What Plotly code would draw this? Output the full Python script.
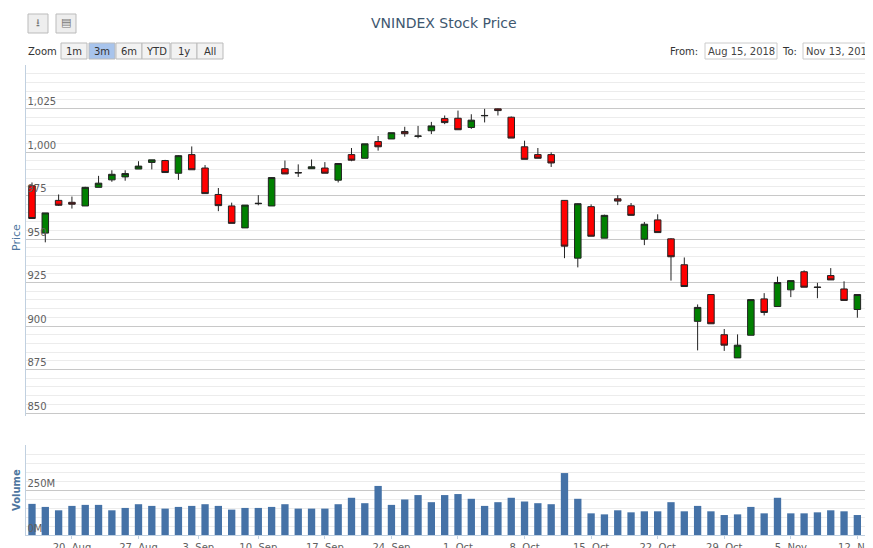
import plotly.graph_objects as go

opens = [980.6,953.4,972.2,971.1,969.0,979.7,984.0,985.7,990.2,994.0,995.1,987.8,998.5,990.8,975.6,969.0,956.4,970.3,969.0,990.4,988.2,990.4,990.8,983.8,998.5,996.4,1006.0,1007.5,1011.8,1009.0,1012.2,1019.2,
         1019.4,1014.1,1020.8,1024.8,1020.0,1003.0,998.5,998.5,972.2,939.0,968.6,950.5,973.1,969.1,949.9,961.0,950.1,935.2,902.7,918.1,895.0,881.7,894.7,915.6,911.2,920.8,931.2,922.4,929.0,921.3,909.5,904.6]
closes = [961.8,965.0,969.4,970.0,979.7,982.1,987.2,987.6,991.9,995.5,988.2,997.9,989.8,976.1,969.2,959.0,969.5,970.5,985.3,987.4,988.0,991.5,987.8,993.4,995.3,1004.7,1003.0,1011.1,1010.5,1009.2,1015.0,1016.9,
          1012.8,1018.3,1021.0,1023.8,1008.0,995.8,996.4,993.7,945.9,970.3,951.6,963.6,971.8,963.6,958.5,953.7,939.8,922.7,910.7,901.3,889.0,889.0,915.2,907.8,925.0,926.1,922.3,922.2,926.5,914.7,918.1,905.5]
highs = [982.5,965.0,975.6,974.4,980.0,986.3,989.5,989.5,994.7,995.5,995.5,998.2,1003.2,992.5,979.3,970.9,969.5,975.2,985.5,995.1,992.9,995.7,994.2,993.6,1002.3,1004.7,1009.2,1011.1,1014.5,1015.0,1017.3,1021.0,
         1023.8,1021.7,1024.8,1025.0,1020.4,1006.5,1002.3,999.8,972.4,970.5,969.9,964.0,975.2,970.7,959.8,964.2,950.5,939.4,912.4,918.1,898.3,895.2,915.2,918.9,928.4,926.1,932.0,924.8,933.3,925.7,918.1,910.9]
lows = [961.8,948.1,969.0,967.5,969.0,979.7,982.9,983.5,990.2,990.0,988.0,984.0,989.8,976.0,966.0,959.0,956.4,969.4,969.0,987.4,985.7,990.4,987.8,982.5,994.7,996.4,1000.8,1007.5,1008.8,1007.9,1010.3,1016.0,
        1012.8,1013.3,1017.0,1021.0,1008.0,995.8,996.4,991.4,939.0,933.7,951.6,950.5,969.5,963.6,946.5,953.7,926.1,922.7,886.0,901.3,885.7,881.7,894.7,906.1,911.2,916.6,922.3,916.0,926.5,914.7,904.8,904.6]
vol_tops = [198,207,217,204,201,201,217,210,199,204,212,207,204,199,204,215,210,210,207,199,212,212,212,199,180,196,145,201,185,172,193,172,169,183,204,193,180,191,196,199,107,183,
            226,229,217,223,220,220,193,220,204,220,231,229,207,226,180,226,226,223,217,220,231,220]
volumes = [(290 - t) * 1.88e6 for t in vol_tops]

tick_pos = [3, 8, 12.5, 17, 22, 27, 32, 37, 42, 47, 52, 57, 62]
tick_labels = ["20. Aug", "27. Aug", "3. Sep", "10. Sep", "17. Sep", "24. Sep", "1. Oct", "8. Oct",
               "15. Oct", "22. Oct", "29. Oct", "5. Nov", "12. Nov"]

L, R, T, B = 18, 868, 57, 527
W = float(R - L)
H = float(B - T)

x = list(range(len(opens)))
fig = go.Figure()
fig.add_trace(go.Candlestick(
    x=x, open=opens, high=highs, low=lows, close=closes, xaxis="x", yaxis="y",
    increasing=dict(fillcolor="#008000", line=dict(color="#222222", width=1)),
    decreasing=dict(fillcolor="#ff0000", line=dict(color="#222222", width=1)),
    whiskerwidth=0, showlegend=False, hoverinfo="none"))
fig.add_trace(go.Bar(x=x, y=volumes, xaxis="x2", yaxis="y2", marker=dict(color="#4572A7", line=dict(width=0)),
                     width=0.55, showlegend=False, hoverinfo="none"))

def py(px):
    return (B - px) / H

def pxp(px):
    return (px - L) / W

fig.update_layout(
    width=873, height=548, margin=dict(l=L, r=873 - R, t=T, b=548 - B, autoexpand=False),
    paper_bgcolor="white", plot_bgcolor="white",
    font=dict(family="DejaVu Sans", size=10, color="#606060"),
    xaxis=dict(domain=[0, 1], range=[-0.45, 63.4], showticklabels=False, showgrid=False,
               rangeslider=dict(visible=False), anchor="y", zeroline=False),
    xaxis2=dict(domain=[0, 1], range=[-0.45, 63.4], matches="x", anchor="y2",
                tickvals=tick_pos, ticktext=tick_labels, ticks="outside", ticklen=3,
                tickcolor="#C0D0E0", showline=True, linecolor="#C0D0E0", showgrid=False,
                tickfont=dict(size=10, color="#606060"), zeroline=False),
    yaxis=dict(domain=[py(408), py(57)], range=[848.3, 1050], dtick=25, tickformat=",d",
               ticklabelposition="inside top", gridcolor="#c8c8c8", showline=True, linecolor="#C0D0E0",
               minor=dict(dtick=5, showgrid=True, gridcolor="#ececec"), zeroline=False,
               tickfont=dict(size=10, color="#606060")),
    yaxis2=dict(domain=[0, py(437)], range=[0, 500e6], tickvals=[0, 250e6], ticktext=["0M", "250M"],
                ticklabelposition="inside top", gridcolor="#c8c8c8", showline=True, linecolor="#C0D0E0",
                minor=dict(dtick=50e6, showgrid=True, gridcolor="#ececec"), zeroline=False,
                tickfont=dict(size=10, color="#606060")),
)

ann = []
def A(text, xp, ypx, size=10, color="#333", angle=0):
    ann.append(dict(text=text, x=pxp(xp), y=py(ypx), xref="paper", yref="paper", showarrow=False,
                    xanchor="center", yanchor="middle", textangle=angle, font=dict(size=size, color=color)))

A("VNINDEX Stock Price", 436, 15, 14, "#3E576F")
A("Price", 8, 230, 11, "#4d759e", -90)
A("<b>Volume</b>", 8, 482, 10, "#4d759e", -90)
A("Zoom", 34, 43)
shapes = []
def rect(x0, x1, y0, y1, fill, line):
    shapes.append(dict(type="rect", xref="paper", yref="paper", x0=pxp(x0), x1=pxp(x1),
                       y0=py(y1), y1=py(y0), fillcolor=fill, line=dict(color=line, width=1)))
buttons = [("1m", 66), ("3m", 94), ("6m", 121), ("YTD", 148), ("1y", 176), ("All", 202)]
for lbl, cx in buttons:
    w = 26 if lbl != "YTD" else 28
    rect(cx - w/2, cx + w/2, 35, 51, "#a8c4ec" if lbl == "3m" else "#f2f2f2", "#bbbbbb")
    A(lbl, cx, 43)
A("From:", 676, 43)
A("To:", 781, 43)
for txt, x0, x1 in [("Aug 15, 2018", 697, 769), ("Nov 13, 2018", 795, 868)]:
    rect(x0, x1, 35, 51, "white", "#cccccc")
    A(txt, (x0 + x1) / 2, 43, 10, "#444")
for cx in [30, 58]:
    rect(cx - 10, cx + 10, 6, 25, "#eeeeee", "#bbbbbb")
A("⭳", 30, 15, 11, "#777")
A("▤", 58, 15, 11, "#777")

fig.update_layout(annotations=ann, shapes=shapes)
fig.write_html("out.html")
